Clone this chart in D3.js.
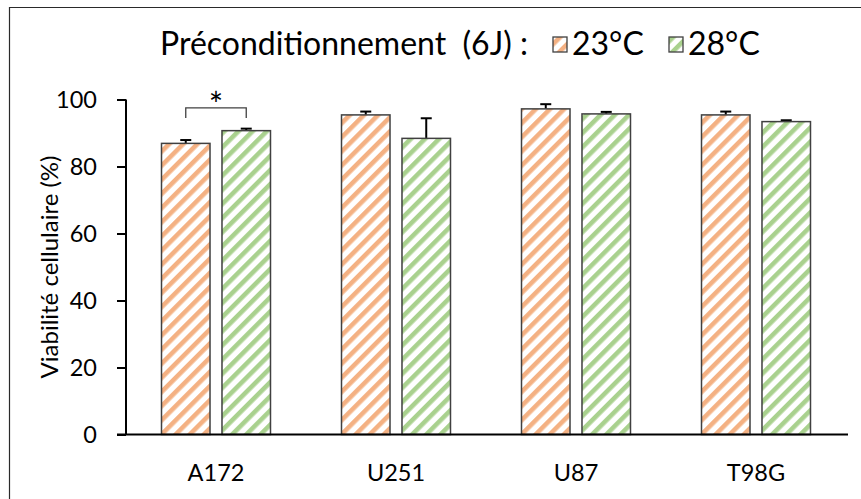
<!DOCTYPE html>
<html>
<head>
<meta charset="utf-8">
<script src="https://cdn.jsdelivr.net/npm/d3@7"></script>
<style>
  html, body { margin: 0; padding: 0; background: #fff; }
  svg { display: block; }
  text { font-family: Lato, "Open Sans", sans-serif; fill: #000; }
</style>
</head>
<body>
<svg id="chart" width="861" height="499"></svg>
<script>
// Cell lines and preconditioning temperatures
const cellLines = ["A172", "U251", "U87", "T98G"];
const seriesNames = ["23°C", "28°C"];
// Mean viability (%) per cell line
const viability23 = [86.9, 95.4, 97.2, 95.4];
const viability28 = [90.7, 88.4, 95.7, 93.4];
// Upper error (SD) per cell line
const error23 = [1.0, 1.0, 1.4, 1.0];
const error28 = [0.6, 6.0, 0.6, 0.4];
const yTicks = [0, 20, 40, 60, 80, 100];
const legendTitle = "Préconditionnement  (6J) :";
const yTitle = "Viabilité cellulaire (%)";
// Significant pairs (cell line index)
const significant = [0];

const colors = ["#F4B183", "#A9D18E"];
const values = [viability23, viability28];
const errors = [error23, error28];

const svg = d3.select("#chart");
const defs = svg.append("defs");

// Diagonal hatch patterns, one per series
colors.forEach((c, i) => {
  const p = defs.append("pattern")
    .attr("id", "hatch" + i)
    .attr("patternUnits", "userSpaceOnUse")
    .attr("width", 10).attr("height", 10)
    .attr("patternTransform", "rotate(45)");
  p.append("rect").attr("width", 10).attr("height", 10).attr("fill", "#fff");
  p.append("rect").attr("x", 0).attr("width", 4.6).attr("height", 10).attr("fill", c);
});

// Frame
svg.append("path").attr("d", "M9.5,499 V7.5 H861").attr("fill", "none")
  .attr("stroke", "#2a2a2a").attr("stroke-width", 1.2);

const x0 = d3.scaleBand().domain(cellLines).range([126, 846]).padding(0);
const x1 = d3.scaleBand().domain(seriesNames).range([0, x0.bandwidth()])
  .paddingInner(0.198).paddingOuter(0.587);
const y = d3.scaleLinear().domain([0, 100]).range([434.5, 99.5]);

// Bars with upper error bars
const groups = svg.append("g").selectAll("g").data(cellLines).join("g")
  .attr("transform", d => `translate(${x0(d)},0)`);

groups.each(function(cl, ci) {
  const g = d3.select(this);
  seriesNames.forEach((s, si) => {
    const v = values[si][ci];
    const e = errors[si][ci];
    const bx = x1(s), bw = x1.bandwidth();
    const cx = bx + bw / 2;
    g.append("line").attr("x1", cx).attr("x2", cx)
      .attr("y1", y(v)).attr("y2", y(v + e))
      .attr("stroke", "#000").attr("stroke-width", 2);
    g.append("line").attr("x1", cx - 5.5).attr("x2", cx + 5.5)
      .attr("y1", y(v + e)).attr("y2", y(v + e))
      .attr("stroke", "#000").attr("stroke-width", 2);
    g.append("rect")
      .attr("x", bx).attr("width", bw)
      .attr("y", y(v)).attr("height", y(0) - y(v))
      .attr("fill", `url(#hatch${si})`)
      .attr("stroke", "#404040").attr("stroke-width", 1.5);
  });
});

// Significance bracket
significant.forEach(ci => {
  const cl = cellLines[ci];
  const xa = x0(cl) + x1(seriesNames[0]) + x1.bandwidth() / 2;
  const xb = x0(cl) + x1(seriesNames[1]) + x1.bandwidth() / 2;
  const top = y(Math.max(values[0][ci] + errors[0][ci], values[1][ci] + errors[1][ci]) + 6.2);
  svg.append("path")
    .attr("d", `M${xa},${top + 10} V${top} H${xb} V${top + 10}`)
    .attr("fill", "none").attr("stroke", "#404040").attr("stroke-width", 1.3);
  svg.append("text").attr("x", (xa + xb) / 2).attr("y", top + 9)
    .attr("text-anchor", "middle").attr("font-size", 34).text("*");
});

// Y axis
const yAxis = svg.append("g").attr("transform", "translate(126,0)")
  .call(d3.axisLeft(y).tickValues(yTicks).tickSize(9).tickPadding(20));
yAxis.select(".domain").attr("stroke", "#000").attr("stroke-width", 2)
  .attr("d", `M0,${y(100)}V${y(0)}`);
yAxis.selectAll(".tick line").attr("stroke", "#000").attr("stroke-width", 2);
yAxis.selectAll(".tick text").attr("font-size", 23.5).attr("fill", "#000")
  .attr("font-family", "Lato, sans-serif");

// X axis
const xAxis = svg.append("g").attr("transform", `translate(0,${y(0)})`)
  .call(d3.axisBottom(x0).tickSize(0).tickPadding(30));
xAxis.select(".domain").attr("stroke", "#000").attr("stroke-width", 2)
  .attr("d", `M117,0H848`);
xAxis.selectAll(".tick text").attr("font-size", 23.5).attr("fill", "#000")
  .attr("font-family", "Lato, sans-serif");

// Y title
svg.append("g").attr("transform", `translate(58,${(y(0) + y(100)) / 2})`)
  .append("text")
  .attr("transform", "rotate(-90)")
  .attr("x", 0).attr("y", 0)
  .attr("text-anchor", "middle").attr("font-size", 24).text(yTitle);

// Legend
const lg = svg.append("g");
lg.append("text").attr("x", 160).attr("y", 55).attr("font-size", 32)
  .style("white-space", "pre").text(legendTitle);
const legendX = [553, 669];
seriesNames.forEach((s, i) => {
  lg.append("rect").attr("x", legendX[i]).attr("y", 37).attr("width", 14).attr("height", 15)
    .attr("fill", `url(#hatch${i})`).attr("stroke", "#404040").attr("stroke-width", 1.3);
  lg.append("text").attr("x", legendX[i] + 19).attr("y", 55).attr("font-size", 32).text(s);
});
</script>
</body>
</html>
